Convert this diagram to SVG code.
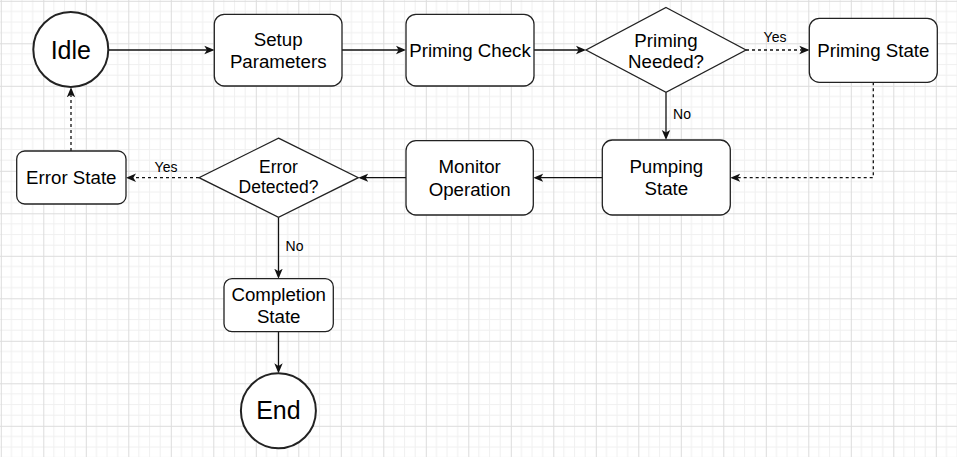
<svg xmlns="http://www.w3.org/2000/svg" width="957" height="457" viewBox="0 0 957 457">
<defs>
<pattern id="grid" patternUnits="userSpaceOnUse" x="0.8" y="0.8" width="42.5" height="42.5">
<path d="M10.625 0V42.5M21.25 0V42.5M31.875 0V42.5M0 10.625H42.5M0 21.25H42.5M0 31.875H42.5" stroke="#f0f0f0" stroke-width="1" fill="none"/>
<path d="M0.5 0V42.5M0 0.5H42.5" stroke="#dcdcdc" stroke-width="1" fill="none"/>
</pattern>
<marker id="arr" viewBox="0 0 10 10" markerUnits="userSpaceOnUse" markerWidth="10" markerHeight="10" refX="8" refY="5" orient="auto">
<path d="M10,5 L0,0.8 L2.6,5 L0,9.2 Z" fill="#111"/>
</marker>
</defs>
<style>
.node{fill:#fff;stroke:#222;stroke-width:1.3}
.circ{fill:#fff;stroke:#222;stroke-width:2}
.t{font-family:"Liberation Sans",Arial,sans-serif;font-size:18.7px;fill:#000;text-anchor:middle}
.big{font-size:25px}
.sm{font-size:17.5px}
.lbl{font-family:"Liberation Sans",Arial,sans-serif;font-size:14px;fill:#000;text-anchor:middle}
.c{fill:none;stroke:#111;stroke-width:1.3;marker-end:url(#arr)}
.d{stroke-dasharray:3 3}
</style>
<rect width="957" height="457" fill="#fff"/>
<rect width="957" height="457" fill="url(#grid)"/>

<g id="connectors">
<path class="c" d="M108.3 50H212.3"/>
<path class="c" d="M342 50H404"/>
<path class="c" d="M534 50H584"/>
<path class="c d" d="M746 50H807.3"/>
<path class="c" d="M666 92.3V138"/>
<path class="c d" d="M873.3 82.3V177.7H732.3"/>
<path class="c" d="M602.3 177.7H535.3"/>
<path class="c" d="M406 177.7H360.3"/>
<path class="c d" d="M199 177.7H128"/>
<path class="c d" d="M71 151V89.3"/>
<path class="c" d="M278.5 217.3V276.7"/>
<path class="c" d="M278.5 331.7V371.3"/>
<text class="lbl" x="775" y="41.7">Yes</text>
<text class="lbl" x="682" y="119">No</text>
<text class="lbl" x="166" y="171.7">Yes</text>
<text class="lbl" x="294.5" y="250.7">No</text>
</g>

<g id="idle">
<circle class="circ" cx="70.8" cy="49.5" r="37.5"/>
<text class="t big" x="70.8" y="58.5">Idle</text>
</g>
<g id="setup">
<rect class="node" x="214.3" y="14.3" width="127.7" height="71.7" rx="10"/>
<text class="t" x="278.2" y="45.7">Setup</text>
<text class="t" x="278.2" y="67.7">Parameters</text>
</g>
<g id="priming-check">
<rect class="node" x="406" y="14.3" width="128" height="71.7" rx="10"/>
<text class="t" x="470" y="57.3">Priming Check</text>
</g>
<g id="priming-needed">
<path class="node" d="M666 7.5L746 50L666 92.3L586 50Z"/>
<text class="t" x="666" y="46.7">Priming</text>
<text class="t" x="666" y="67.7">Needed?</text>
</g>
<g id="priming-state">
<rect class="node" x="809.3" y="18.3" width="128" height="64" rx="10"/>
<text class="t" x="873.3" y="57.3">Priming State</text>
</g>
<g id="pumping-state">
<rect class="node" x="602.3" y="140" width="128" height="75" rx="10"/>
<text class="t" x="666.3" y="173.3">Pumping</text>
<text class="t" x="666.3" y="195">State</text>
</g>
<g id="monitor-operation">
<rect class="node" x="406" y="140.7" width="127.3" height="74.3" rx="10"/>
<text class="t" x="469.7" y="173.3">Monitor</text>
<text class="t" x="469.7" y="195.7">Operation</text>
</g>
<g id="error-detected">
<path class="node" d="M278.5 138.2L358.3 177.7L278.5 217.3L199 177.7Z"/>
<text class="t sm" x="278.5" y="173.3">Error</text>
<text class="t sm" x="278.5" y="193.3">Detected?</text>
</g>
<g id="error-state">
<rect class="node" x="16.7" y="151" width="109.3" height="53" rx="8"/>
<text class="t" x="71.3" y="184">Error State</text>
</g>
<g id="completion-state">
<rect class="node" x="224" y="278.7" width="109.3" height="53" rx="8"/>
<text class="t" x="278.7" y="300.7">Completion</text>
<text class="t" x="278.7" y="322.7">State</text>
</g>
<g id="end">
<circle class="circ" cx="278.4" cy="410.8" r="37.5"/>
<text class="t big" x="278.4" y="419.3">End</text>
</g>
</svg>
